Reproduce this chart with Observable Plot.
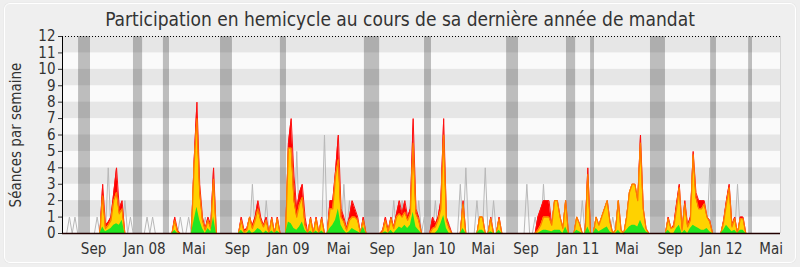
<!DOCTYPE html>
<html>
<head>
<meta charset="utf-8">
<script src="https://cdn.jsdelivr.net/npm/d3@7"></script>
<script src="https://cdn.jsdelivr.net/npm/@observablehq/plot@0.6"></script>
<style>
  html, body { margin: 0; padding: 0; background: #efefef; }
  #wrap { position: relative; width: 800px; height: 267px; background: #efefef; overflow: hidden;
          font-family: "DejaVu Sans Condensed", "DejaVu Sans", sans-serif; font-stretch: condensed; }
  #frame { position: absolute; left: 4px; top: 3px; width: 790px; height: 258px;
           border: 1px solid #ffffff; border-radius: 6px; box-shadow: 0 0 1px #c8c8c8; }
  #title { position: absolute; left: 0; top: 8px; width: 800px; text-align: center;
           font-size: 19px; color: #333; line-height: 23px; }
  #chart { position: absolute; left: 0; top: 0; }
</style>
</head>
<body>
<div id="wrap">
  <div id="frame"></div>
  <div id="chart"></div>
  <div id="title"></div>
</div>
<script>
const titleText = "Participation en hemicycle au cours de sa dernière année de mandat";
const yLabel = "Séances par semaine";

// weekly values, index 0..258
const total = [
  0,0,0,0,0,0,0,0,0,0, 0,0,0,0,3,0.5,0.7,1,2.5,4,
  1.5,2,0,0,0,0,0,0,0,0, 0,0,0,0,0,0,0,0,0,0,
  1,0.2,0,0,0,0,0,4.5,8,3, 1,0.3,1,0.5,4,0,0,0,0,0,
  0,0,0,0,1,0.2,0.3,1,0.5,1, 2,1,0.5,1,0,1,0,1,0,0,
  0,5.5,7,3.5,1.5,2.5,3,1,0,1, 0,1,0,1,0,0,2,2,3.8,6,
  1.5,1,0.3,1,2,1.5,1,0,1,0, 0,0,0,0,0,0.2,1,0.2,1,0.4,
  1.2,2,1.2,2,1,1.5,7,1.5,1,0, 0,0,0,1,0.6,1,2,7,1,0.5,
  0,0,0,0,2,0,0,0,0,0, 1,1,0,0,1,0,0,1,0,0,
  0,0,0,0,0,0,0,0,0,0, 0,1,1.5,2,2,2,0.5,2,2,1,
  0.3,2,0,0,0,1,0.6,0,0,4, 0,0,1,0.5,1,1.5,2,0.7,0,0.2,
  2,0.2,0,1,2.5,3,3,2,6,1.5, 0.3,0,0,0,0,0,0,0,1,0.3,
  0.5,1.8,3,0.2,2,0.5,1,5,2.5,2, 2,2,1,0.8,0,0,0,0,0.8,2,
  3,0.5,1,0,1,1,0,0,0,0, 0,0,0,0,0,0,0,0,0
];
const yellow = [
  0,0,0,0,0,0,0,0,0,0, 0,0,0,0,2.3,0.3,0.5,0.8,2,2.5,
  1.2,1.5,0,0,0,0,0,0,0,0, 0,0,0,0,0,0,0,0,0,0,
  0.8,0.1,0,0,0,0,0,4.2,7,2.5, 0.8,0.2,0.8,0.3,3.3,0,0,0,0,0,
  0,0,0,0,0.8,0.1,0.2,1,0.3,0.8, 1.5,0.8,0.4,0.8,0,0.9,0,0.9,0,0,
  0,5.2,5.2,2,1,1.8,2.2,0.5,0,0.9, 0,0.9,0,0.9,0,0,1.5,1.5,3.5,4.5,
  1,0.7,0.2,0.8,1,1,0.8,0,0.8,0, 0,0,0,0,0,0.1,0.8,0.1,0.9,0.3,
  1,1.2,1,1.3,0.8,1.2,5.5,1.2,0.8,0, 0,0,0,0.3,0.4,0.8,1.5,6,0.8,0.3,
  0,0,0,0,1.8,0,0,0,0,0, 1,1,0,0,0.9,0,0,0.9,0,0,
  0,0,0,0,0,0,0,0,0,0, 0,0.2,0.5,1,1,1,0.5,2,2,1,
  0.3,2,0,0,0,1,0.6,0,0,3.6, 0,0,1,0.5,1,1.5,2,0.7,0,0.2,
  2,0.2,0,1,2.5,3,3,2,5.5,1.5, 0.3,0,0,0,0,0,0,0,0.9,0.3,
  0.4,1.5,2.8,0.2,1.8,0.4,0.8,4.8,2.2,1.5, 1.5,1.8,1,0.7,0,0,0,0,0.7,1.8,
  2.8,0.4,0.9,0,0.9,0.9,0,0,0,0, 0,0,0,0,0,0,0,0,0
];
const green = [
  0,0,0,0,0,0,0,0,0,0, 0,0,0,0,0.4,0.1,0.2,0.3,0.5,0.6,
  0.5,0.8,0,0,0,0,0,0,0,0, 0,0,0,0,0,0,0,0,0,0,
  0.2,0,0,0,0,0,0,0.8,1.6,0.8, 0.3,0,0.3,0.1,1,0,0,0,0,0,
  0,0,0,0,0.2,0,0,0.2,0,0.1, 0.3,0.2,0,0.15,0,0.15,0,0.15,0,0,
  0,0.7,0.6,0.3,0.2,0.4,0.7,0.2,0,0.15, 0,0.15,0,0.15,0,0,0.3,0.5,0.8,1.5,
  0.5,0.2,0,0.1,0.3,0.2,0.1,0,0.4,0, 0,0,0,0,0,0,0.1,0,0.2,0,
  0.2,0.4,0.3,0.5,0.3,0.5,1.3,0.4,0.2,0, 0,0,0,0,0,0.2,0.6,1.1,0.3,0,
  0,0,0,0,0.3,0,0,0,0,0, 0.2,0.2,0,0,0.1,0,0,0.2,0,0,
  0,0,0,0,0,0,0,0,0,0, 0,0,0.1,0.2,0.2,0.15,0.1,0.2,0.2,0.2,
  0,0.4,0,0,0,0.2,0.1,0,0,0.4, 0,0,0.3,0.1,0.2,0.3,0.4,0.1,0,0,
  0.2,0,0,0.2,0.4,0.5,0.5,0.4,0.8,0.4, 0.1,0,0,0,0,0,0,0,0.2,0,
  0,0.3,0.5,0,0.2,0,0.3,0.5,0.4,0.3, 0.2,0.2,0.3,0.1,0,0,0,0,0.2,0.5,
  0.3,0.1,0.2,0,0.2,0.2,0,0,0,0, 0,0,0,0,0,0,0,0,0
];
const grey = [
  0,0,1,0,1,0,0,0,0,0, 0,0,1,0,0,0,4,0,0,0,
  0,0,2,0,1,0,0,0,0,0, 1,0,1,0,0,0,0,0,0,0,
  0,0,1,0,0,1,0,0,0,0, 0,1,0,0,0,0,0,0,0,0,
  0,0,0,0,0,0,0,0,3,0, 0,0,0,2,0,0,0,0,0,0,
  0,0,0,0,5,0,0,0,0,0, 0,0,0,0,6,0,0,0,0,0,
  0,3,0,2,0,0,0,0,0,0, 0,0,0,0,0,0,0,0,0,2,
  0,0,2,0,0,2,0,0,2,0, 1,0,0,0,2,0,0,0,0,0,
  0,0,0,3,0,4,0,0,0,2, 0,0,4,0,0,2,0,0,0,0,
  0,0,0,0,0,0,0,3,0,0, 1,0,0,3,0,0,0,0,0,0,
  0,0,0,0,0,0,0,2,0,0, 0,0,0,0,0,0,0,0,1,0,
  0,0,0,0,0,0,0,0,0,0, 0,0,0,0,0,0,0,0,0,0,
  0,0,0,0,0,0,0,0,0,0, 0,0,0,4,0,0,0,0,0,0,
  0,0,0,3,0,0,0,0,0,0, 0,0,0,0,0,0,0,0,0
];

// parliamentary breaks (in week index units)
const vacStart = [5.3, 25.1, 35.9, 56.5, 78.1, 108.4, 130.1, 159.7, 181.3, 190.0, 211.6, 233.3, 247.0];
const vacEnd   = [9.6, 28.4, 38.1, 60.8, 80.3, 113.9, 132.6, 164.0, 184.6, 191.4, 217.0, 235.4, 248.4];

// x tick labels (week index of label centre)
const xTickPos = [10.7, 29.1, 46.9, 62.6, 81.0, 99.1, 114.8, 133.7, 151.2, 166.7, 185.5, 203.1, 218.7, 237.2, 255.1];
const xTickLabels = ["Sep", "Jan 08", "Mai", "Sep", "Jan 09", "Mai", "Sep", "Jan 10", "Mai", "Sep", "Jan 11", "Mai", "Sep", "Jan 12", "Mai"];
const yTicks = [0,1,2,3,4,5,6,7,8,9,10,11,12];
const stripeStarts = [1,3,5,7,9,11];

const rows = total.map((t, i) => ({w: i, total: t, yellow: yellow[i], green: green[i], grey: grey[i]}));
const vacations = vacStart.map((s, i) => ({s, e: vacEnd[i]}));
const labelOf = new Map(xTickPos.map((p, i) => [p, xTickLabels[i]]));

document.getElementById("title").textContent = titleText;

const chart = Plot.plot({
  width: 800,
  height: 267,
  marginLeft: 62,
  marginRight: 20,
  marginTop: 36,
  marginBottom: 34,
  style: {
    fontFamily: "'DejaVu Sans Condensed', 'DejaVu Sans', sans-serif",
    fontStretch: "condensed",
    fontSize: "15px",
    background: "transparent",
    color: "#333"
  },
  x: {domain: [-0.5, 258.5]},
  y: {domain: [0, 12]},
  marks: [
    Plot.frame({fill: "#fafafa", stroke: null}),
    Plot.rect(stripeStarts, {y1: d => d, y2: d => d + 1, fill: "#e6e6e6"}),
    Plot.rect(vacations, {x1: "s", x2: "e", fill: "#000", fillOpacity: 0.245}),
    Plot.ruleX([258.5], {stroke: "#d4d4d4"}),
    Plot.lineY(rows, {x: "w", y: "grey", stroke: "#b8b8b8", strokeWidth: 1}),
    Plot.areaY(rows, {x: "w", y: "total", fill: "#ff0000"}),
    Plot.lineY(rows, {x: "w", y: "total", stroke: "#ff1010", strokeWidth: 1}),
    Plot.areaY(rows, {x: "w", y: "yellow", fill: "#ffd200"}),
    Plot.lineY(rows, {x: "w", y: "yellow", stroke: "#ff7a00", strokeWidth: 1.2}),
    Plot.areaY(rows, {x: "w", y: "green", fill: "#22e622"}),
    Plot.ruleY([12], {stroke: "#000", strokeDasharray: "1,2"}),
    Plot.ruleY([0], {stroke: "#200", strokeWidth: 1.6}),
    Plot.ruleX([-0.5], {stroke: "#000"}),
    Plot.axisY({ticks: yTicks, tickSize: 4, tickPadding: 3, fontSize: 15,
      label: yLabel, labelAnchor: "center", labelOffset: 52, labelArrow: "none"}),
    Plot.axisX({ticks: xTickPos, tickFormat: d => labelOf.get(d), tickSize: 0, tickPadding: 10,
      fontSize: 15, label: null})
  ]
});
document.getElementById("chart").appendChild(chart);
</script>
</body>
</html>
